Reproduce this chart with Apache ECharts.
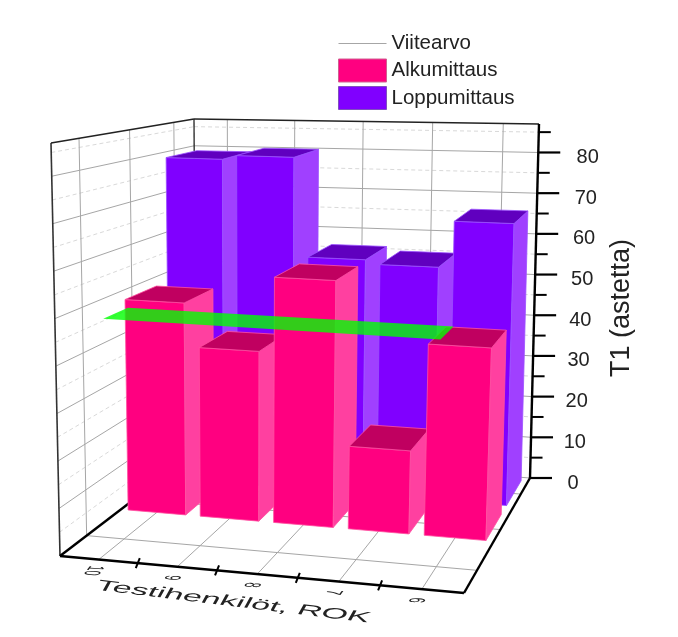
<!DOCTYPE html>
<html><head><meta charset="utf-8">
<style>html,body{margin:0;padding:0;background:#fff}#c{width:678px;height:637px}</style>
<script src="https://cdn.jsdelivr.net/npm/echarts@6/dist/echarts.min.js"></script>
</head><body><div id="c"></div>
<script>
const categories = ['10','9','8','7','6'];
const alkumittaus = [48.5,38.5,55.5,18.5,42.5];
const loppumittaus = [79,80,56,55,66];
const viitearvo = [45.5];
const majorTicks = [0,10,20,30,40,50,60,70,80];
const minorTicks = [5,15,25,35,45,55,65,75,85];
const valueTitle = 'T1 (astetta)';
const categoryTitle = 'Testihenkilöt, ROK';
const ZMAX = 87;

// camera: where the box's corners fall on the page
const floorQuad = [[60,556],[464,593],[530,478],[196,452]];
const topQuad = [[51,143],[478,165],[539,124],[194,119]];
const cam=(()=>{
  const [[x0,y0],[x1,y1],[x2,y2],[x3,y3]] = floorQuad;
  const sx=x0-x1+x2-x3, sy=y0-y1+y2-y3, dx1=x1-x2, dx2=x3-x2, dy1=y1-y2, dy2=y3-y2;
  const det=dx1*dy2-dx2*dy1;
  return {g:(sx*dy2-dx2*sy)/det,h:(dx1*sy-sx*dy1)/det};
})();
function P(u,v,zf){
  const {g,h}=cam,w=1+g*u+h*v;
  const wts=[(1-u)*(1-v),u*(1-v)*(1+g),u*v*(1+g+h),(1-u)*v*(1+h)].map(a=>a/w);
  let x=0,y=0;
  for(let i=0;i<4;i++){
    x+=wts[i]*(floorQuad[i][0]+zf*(topQuad[i][0]-floorQuad[i][0]));
    y+=wts[i]*(floorQuad[i][1]+zf*(topQuad[i][1]-floorQuad[i][1]));
  }
  return [x,y];
}

const G={left:60,top:100,width:400,height:400};
// page position on the hidden flat axes -> u / z fraction
function flat(api,cat,val){const p=api.coord([cat,val]);return [(p[0]-G.left)/G.width,1-(p[1]-G.top)/G.height];}

function poly(points,fill,stroke,lw,extra){return Object.assign({type:'polygon',shape:{points},style:{fill:fill||'none',stroke:stroke||'none',lineWidth:lw||0}},extra||{});}
function line(a,b,stroke,lw,dash){return {type:'line',shape:{x1:a[0],y1:a[1],x2:b[0],y2:b[1]},style:{stroke,lineWidth:lw,lineDash:dash||null,fill:'none'}};}

// affine text: local x -> a, local y -> b, anchored at [x,y]
function affineText(text,x,y,a,b,size){
  const A=a[0],C=a[1],B=b[0],D=b[1];
  const E=(A+D)/2,F=(A-D)/2,Gg=(C+B)/2,H=(C-B)/2;
  const Q=Math.hypot(E,H),R=Math.hypot(F,Gg),sx=Q+R,sy=Q-R;
  const a1=Math.atan2(Gg,F),a2=Math.atan2(H,E);
  const th=(a2-a1)/2,ph=(a2+a1)/2;
  return {type:'group',x,y,rotation:-ph,children:[{type:'group',scaleX:sx,scaleY:sy,children:[{type:'text',rotation:-th,
    style:{text,x:0,y:0,fill:'#222',font:size+'px "Liberation Sans",Arial,sans-serif',align:'center',verticalAlign:'middle'}}]}]};
}

const BAR_U=0.08;
const rows={front:[0.40,0.63],back:[0.715,0.965]};
function bar(api,row,face,side,top,edge){
  const c=api.value(0),val=api.value(1);
  const [u,zf]=flat(api,c,val);
  const [v0,v1]=row;
  const u0=u-BAR_U,u1=u+BAR_U;
  const f0=P(u0,v0,0),f1=P(u1,v0,0),b1=P(u1,v1,0);
  const t0=P(u0,v0,zf),t1=P(u1,v0,zf),t2=P(u1,v1,zf),t3=P(u0,v1,zf);
  return {type:'group',children:[
    poly([f0,f1,t1,t0],face,edge,0.8),
    poly([f1,b1,t2,t1],side,edge,0.8),
    poly([t0,t1,t2,t3],top,edge,0.8)
  ]};
}

function frame(params,api){
  const ch=[];
  const gridV=[1/6,.5,5/6], gridU=[.1,.3,.5,.7,.9];
  const zOf=t=>flat(api,0,t)[1];
  const grey='#a6a6a6', light='#d9d9d9';
  minorTicks.forEach(t=>{const z=zOf(t);
    ch.push(line(P(0,0,z),P(0,1,z),light,1,[4,3]),line(P(0,1,z),P(1,1,z),light,1,[4,3]));});
  majorTicks.slice(1).forEach(t=>{const z=zOf(t);
    ch.push(line(P(0,0,z),P(0,1,z),grey,1),line(P(0,1,z),P(1,1,z),grey,1));});
  gridV.forEach(v=>{ch.push(line(P(0,v,0),P(0,v,1),grey,1),line(P(0,v,0),P(1,v,0),grey,1));});
  gridU.forEach(u=>{ch.push(line(P(u,1,0),P(u,1,1),grey,1),line(P(u,0,0),P(u,1,0),grey,1));});
  // frame
  ch.push(line(P(0,0,0),P(0,0,1),'#333',1.6),line(P(0,1,0),P(0,1,1),'#333',1.4),
    line(P(0,0,1),P(0,1,1),'#222',1.6),line(P(0,1,1),P(1,1,1),'#222',1.4),line(P(0,1,0),P(1,1,0),grey,1));
  ch.push(line(P(0,0,0),P(1,0,0),'#000',2.4),line(P(0,0,0),P(0,1,0),'#000',2.4),line(P(1,0,0),P(1,1,0),'#000',2.4),line(P(1,1,0),P(1,1,1),'#000',2.4));
  // value axis ticks and labels
  majorTicks.forEach(t=>{const p=P(1,1,zOf(t));
    ch.push(line(p,[p[0]+22,p[1]],'#000',2.2));
    ch.push({type:'text',style:{text:String(t),x:p[0]+43+t*0.08,y:p[1]+5,fill:'#222',font:'20px "Liberation Sans",Arial,sans-serif',align:'center',verticalAlign:'middle'}});});
  minorTicks.forEach(t=>{const p=P(1,1,zOf(t));ch.push(line(p,[p[0]+12,p[1]],'#000',2));});
  // category axis ticks and labels
  for(let i=1;i<categories.length;i++){const u=i/categories.length;
    const p=P(u,0,0);ch.push(line([p[0]+2,p[1]-5],[p[0]-2,p[1]+5],'#000',2));}
  categories.forEach((c,i)=>{const u=flat(api,i,0)[0];const p=P(u,0,0);
    ch.push(affineText(c,p[0]-6,p[1]+11,[-.5,.65],[-1.7,-.1],13));});
  ch.push(affineText(categoryTitle,233,602,[1.66,.2],[-.4,.72],20));
  ch.push({type:'text',x:622,y:308,rotation:Math.PI/2,style:{text:valueTitle,x:0,y:0,fill:'#222',font:'27px "Liberation Sans",Arial,sans-serif',align:'center',verticalAlign:'middle'}});
  return {type:'group',children:ch};
}

const chart=echarts.init(document.getElementById('c'),null,{renderer:'canvas'});
chart.setOption({
  animation:false,backgroundColor:'#fff',
  grid:{left:G.left,top:G.top,width:G.width,height:G.height},
  xAxis:{type:'category',data:categories,show:false},
  yAxis:{type:'value',min:0,max:ZMAX,show:false},
  legend:{left:338,top:32,padding:0,orient:'vertical',itemWidth:48,itemHeight:23,itemGap:3.5,selectedMode:false,
    textStyle:{fontFamily:'"Liberation Sans",Arial,sans-serif',fontSize:20.5,color:'#222',padding:[2,0,0,0]},
    data:[{name:'Viitearvo',icon:'path://M0,0 L0,0 Z M0,11 L48,11 L48,12 L0,12 Z M0,23 L0,23 Z',itemStyle:{color:'#a6a6a6',borderWidth:0}},
      {name:'Alkumittaus',icon:'rect',itemStyle:{color:'#ff0080',borderColor:'#d06090',borderWidth:1}},
      {name:'Loppumittaus',icon:'rect',itemStyle:{color:'#8000ff',borderColor:'#8050c0',borderWidth:1}}]},
  series:[
   {type:'custom',name:'frame',coordinateSystem:'cartesian2d',silent:true,data:[[0,0]],renderItem:frame,z:1},
   {type:'custom',name:'Loppumittaus',silent:true,z:2,itemStyle:{color:'#8000ff'},
    data:loppumittaus.map((v,i)=>[i,v]),encode:{x:0,y:1},
    renderItem:(p,api)=>bar(api,rows.back,'#8000ff','#a040ff','#6000bf','#9a50ff')},
   {type:'custom',name:'Alkumittaus',silent:true,z:3,itemStyle:{color:'#ff0080'},
    data:alkumittaus.map((v,i)=>[i,v]),encode:{x:0,y:1},
    renderItem:(p,api)=>bar(api,rows.front,'#ff0080','#ff40a0','#c00060','#ff50a0')},
   {type:'custom',name:'Viitearvo',silent:true,z:4,itemStyle:{color:'#a6a6a6'},
    data:viitearvo.map(v=>[0,v]),encode:{x:0,y:1},
    renderItem:(p,api)=>{const zf=flat(api,0,api.value(1))[1];const u0=0,u1=0.87,v0=0.3,v1=0.47;
      return poly([P(u0,v0,zf),P(u1,v0,zf),P(u1,v1,zf),P(u0,v1,zf)],'rgba(0,255,0,0.8)');}}
  ]
});
</script></body></html>
